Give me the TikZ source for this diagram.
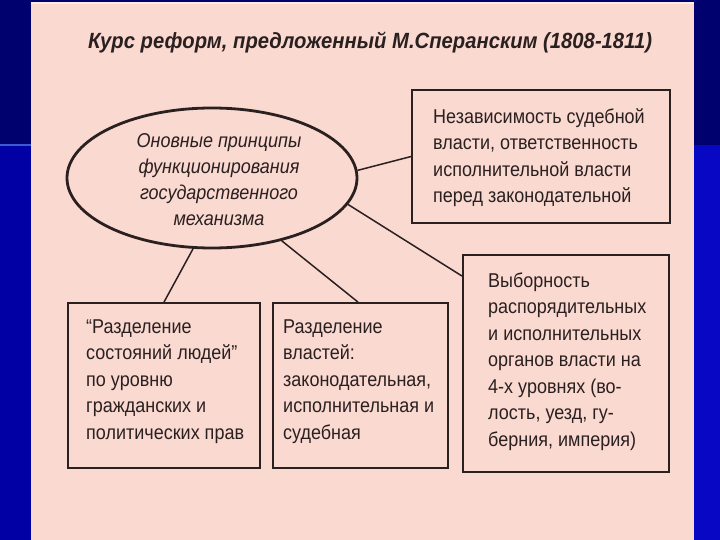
\documentclass[tikz,border=0pt]{standalone}
\usepackage{fontspec}
\setmainfont{Liberation Sans}
\newfontfamily\bodyfont[FakeStretch=0.9]{Liberation Sans}
\newfontfamily\titlefont[FakeStretch=0.92]{Liberation Sans}
\usetikzlibrary{shapes.geometric,calc}
\definecolor{navy}{HTML}{00006E}
\definecolor{blueL}{HTML}{0000A4}
\definecolor{blueR}{HTML}{0808C4}
\definecolor{blueline}{HTML}{3A5AD0}
\definecolor{paper}{HTML}{FAD9D1}
\definecolor{paperedge}{HTML}{FDEBE6}
\definecolor{ink}{HTML}{2A2020}
\begin{document}
\begin{tikzpicture}[x=1pt,y=-1pt,
  boxnode/.style={draw=ink, line width=1.8pt, rectangle, inner sep=0pt},
  bodytext/.style={text=ink, align=left, inner sep=0pt, anchor=west,
    font=\bodyfont\fontsize{20}{26.5}\selectfont},
  elltext/.style={text=ink, align=center, inner sep=0pt,
    font=\bodyfont\itshape\fontsize{20}{26}\selectfont},
  link/.style={draw=ink, line width=1.5pt}]
\useasboundingbox (0,0) rectangle (720,540);
% background
\fill[navy] (0,0) rectangle (720,540);
\fill[blueL] (0,145) rectangle (31,540);
\fill[blueR] (694,145) rectangle (720,540);
\fill[blueline] (0,144) rectangle (31,146);
\fill[paperedge] (31,2) rectangle (694,540);
\fill[paper] (31,4) rectangle (694,540);
% title
\node[text=ink, anchor=base, inner sep=0pt,
  font=\titlefont\bfseries\itshape\fontsize{22}{24}\selectfont] (title) at (370,49)
  {Курс реформ, предложенный М.Сперанским (1808-1811)};
% ellipse
\node[ellipse, draw=ink, line width=2.8pt, minimum width=290pt, minimum height=140pt, inner sep=0pt] (ell) at (212,178) {};
\node[elltext] (elltxt) at (219,180) {Оновные принципы\\функционирования\\государственного\\механизма};
% boxes
\node[boxnode, minimum width=258pt, minimum height=133pt] (boxTR) at (541,156.5) {};
\node[bodytext] (txtTR) at (433,157.5) {Независимость судебной\\власти, ответственность\\исполнительной власти\\перед законодательной};
\node[boxnode, minimum width=206pt, minimum height=217pt] (boxBR) at (566,363.5) {};
\node[bodytext] (txtBR) at (488,361.5) {Выборность\\распорядительных\\и исполнительных\\органов власти на\\4-х уровнях (во-\\лость, уезд, гу-\\берния, империя)};
\node[boxnode, minimum width=192pt, minimum height=165pt] (boxA) at (164,385.5) {};
\node[bodytext] (txtA) at (86,381.5) {“Разделение\\состояний людей”\\по уровню\\гражданских и\\политических прав};
\node[boxnode, minimum width=175pt, minimum height=165pt] (boxB) at (360.5,385.5) {};
\node[bodytext] (txtB) at (283,381.5) {Разделение\\властей:\\законодательная,\\исполнительная и\\судебная};
% connectors
\draw[link] (ell.3) -- (boxTR.west);
\draw[link] (ell.-11) -- ($(boxBR.north west)+(0,22)$);
\draw[link] (ell.-105) -- (boxA.north);
\draw[link] (ell.-42) -- ($(boxB.north)+(-2.5,0)$);
\end{tikzpicture}
\end{document}
